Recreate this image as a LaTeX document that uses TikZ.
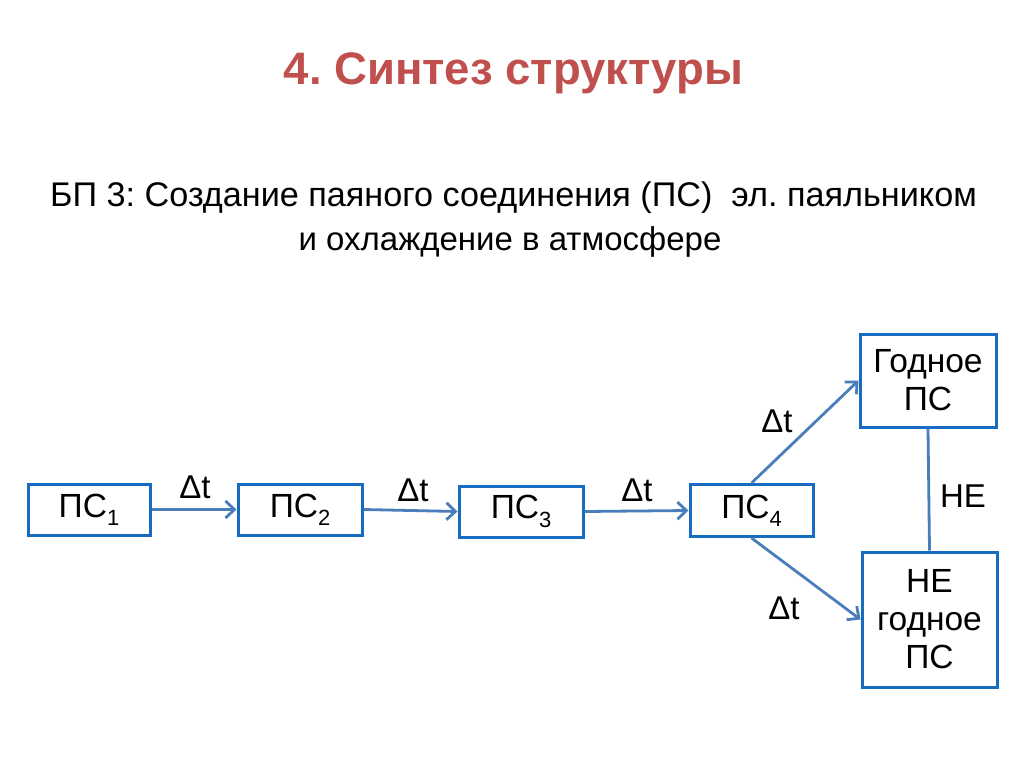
\documentclass[tikz,border=0pt]{standalone}
\usepackage{fontspec}
\setmainfont{Liberation Sans}
\usetikzlibrary{arrows.meta}
\definecolor{titlered}{RGB}{192,80,77}
\definecolor{boxblue}{RGB}{22,108,192}
\definecolor{arrowblue}{RGB}{74,126,187}
\tikzset{
  pcbox/.style={draw=boxblue, line width=3pt, rectangle, inner sep=0pt, align=center,
    font=\fontsize{33.5}{38}\selectfont, text=black},
  conn/.style={draw=arrowblue, line width=2.8pt, -{Straight Barb[length=9pt,width=17pt]}},
  plainconn/.style={draw=arrowblue, line width=2.8pt},
  dtlabel/.style={inner sep=0pt, font=\fontsize{33}{38}\selectfont},
  bodytext/.style={inner sep=0pt, font=\fontsize{33}{40}\selectfont, anchor=base},
}
\newcommand{\sbs}[1]{\raisebox{-0.25em}{\fontsize{22}{24}\selectfont #1}}
\begin{document}
\frenchspacing
\begin{tikzpicture}[x=1pt,y=-1pt]
\useasboundingbox[fill=white] (0,0) rectangle (1024,767);

\node[inner sep=0pt, anchor=base, text=titlered, font=\fontsize{45.5}{52}\selectfont\bfseries] (title) at (513.5,85) {4. Синтез структуры};
\node[bodytext, font=\fontsize{34.2}{40}\selectfont] (line1) at (513.5,207) {БП 3: Создание паяного соединения (ПС)\ \ эл. паяльником};
\node[bodytext] (line2) at (510,250) {и охлаждение в атмосфере};

\node[pcbox, minimum width=122pt, minimum height=51pt] (b1) at (89,509.5) {ПС\sbs{1}};
\node[pcbox, minimum width=124pt, minimum height=51pt] (b2) at (300,509.5) {ПС\sbs{2}};
\node[pcbox, minimum width=124pt, minimum height=51pt] (b3) at (521,511.5) {ПС\sbs{3}};
\node[pcbox, minimum width=123pt, minimum height=52pt] (b4) at (751.5,510.5) {ПС\sbs{4}};
\node[pcbox, minimum width=136pt, minimum height=93pt] (good) at (928,380.5) {Годное\\ПС};
\node[pcbox, minimum width=135pt, minimum height=135pt] (bad) at (929.5,619.5) {НЕ\\годное\\ПС};

\draw[conn] (b1.east) -- (b2.west);
\draw[conn] (b2.east) -- (b3.west);
\draw[conn] (b3.east) -- (b4.west);
\draw[conn] (b4.north) -- (good.west);
\draw[conn] (b4.south) -- (bad.west);
\draw[plainconn] (good.south) -- (bad.north);

\node[dtlabel] (d1) at (195,487) {Δt};
\node[dtlabel] (d2) at (413,490) {Δt};
\node[dtlabel] (d3) at (637,490) {Δt};
\node[dtlabel] (d4) at (777,421) {Δt};
\node[dtlabel] (d5) at (784,608) {Δt};
\node[dtlabel] (ne) at (963,496) {НЕ};
\end{tikzpicture}
\end{document}
